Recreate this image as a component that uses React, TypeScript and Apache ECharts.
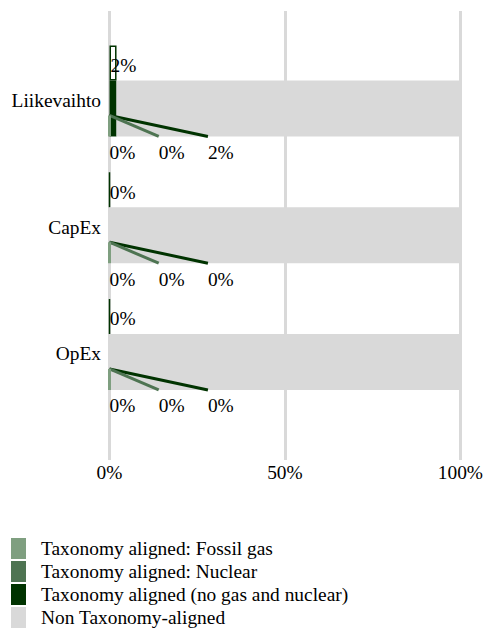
import React, { useEffect, useRef } from 'react';
import * as echarts from 'echarts';

const categories = ['Liikevaihto', 'CapEx', 'OpEx'];
const fossilGas = [0, 0, 0];
const nuclear = [0, 0, 0];
const alignedNoGasNuclear = [2, 0, 0];
const nonAligned = [98, 100, 100];
const totalAligned = [2, 0, 0];

const seriesNames = [
  'Taxonomy aligned: Fossil gas',
  'Taxonomy aligned: Nuclear',
  'Taxonomy aligned (no gas and nuclear)',
  'Non Taxonomy-aligned',
];
const seriesColors = ['#7f9f80', '#4e7452', '#003300', '#d9d9d9'];

const FONT = 'Times New Roman, Liberation Serif, serif';
const FS = 19.4;

export default function App() {
  const ref = useRef<HTMLDivElement>(null);

  useEffect(() => {
    if (!ref.current) return;
    const chart = echarts.init(ref.current, null, { renderer: 'svg' });
    const stackValues = [fossilGas, nuclear, alignedNoGasNuclear, nonAligned];

    const option: any = {
      animation: false,
      textStyle: { fontFamily: FONT },
      grid: [
        { left: 109.5, right: 25, top: 11, bottom: 170 },
        { left: 109.5, right: 25, top: 27.6, height: 380.25 },
      ],
      xAxis: [
        {
          gridIndex: 0,
          type: 'value',
          min: 0,
          max: 100,
          interval: 50,
          axisLine: { show: false },
          axisTick: { show: false },
          splitLine: { show: true, lineStyle: { color: '#d9d9d9', width: 3 } },
          axisLabel: {
            formatter: '{value}%',
            fontSize: FS,
            fontFamily: FONT,
            color: '#000',
            margin: 3,
          },
        },
        { gridIndex: 1, type: 'value', min: 0, max: 100, show: false },
      ],
      yAxis: [
        { gridIndex: 0, type: 'value', min: 0, max: 1, show: false },
        {
          gridIndex: 1,
          type: 'category',
          data: categories,
          inverse: true,
          axisLine: { show: false },
          axisTick: { show: false },
          splitLine: { show: false },
          axisLabel: {
            fontSize: FS,
            fontFamily: FONT,
            color: '#000',
            margin: 8.5,
            verticalAlign: 'top',
          },
        },
      ],
      legend: {
        orient: 'vertical',
        left: 11,
        top: 538,
        height: 120,
        padding: 0,
        itemWidth: 15,
        itemHeight: 21,
        itemGap: 2,
        icon: 'rect',
        data: seriesNames,
        textStyle: {
          fontSize: FS,
          fontFamily: FONT,
          color: '#000',
          lineHeight: 21,
          padding: [0, 0, 0, 10],
        },
      },
      series: [
        {
          name: 'Taxonomy aligned',
          type: 'bar',
          xAxisIndex: 1,
          yAxisIndex: 1,
          stack: 'total',
          barWidth: 35,
          barGap: '0%',
          data: totalAligned,
          itemStyle: { color: '#ffffff', borderColor: '#003300', borderWidth: 1.5 },
          label: {
            show: true,
            position: 'insideLeft',
            distance: 1,
            offset: [0, 2.5],
            formatter: '{c}%',
            fontSize: FS,
            fontFamily: FONT,
            color: '#000',
          },
        },
        ...seriesNames.map((name, k) => ({
          name,
          type: 'bar',
          xAxisIndex: 1,
          yAxisIndex: 1,
          stack: 'main',
          barWidth: 56,
          barGap: '0%',
          data: stackValues[k],
          itemStyle: { color: seriesColors[k] },
        })),
        {
          type: 'custom',
          xAxisIndex: 1,
          yAxisIndex: 1,
          silent: true,
          z: 5,
          encode: { x: 0, y: 3 },
          data: categories.map((c, i) => [
            fossilGas[i],
            nuclear[i],
            alignedNoGasNuclear[i],
            i,
          ]),
          renderItem: (params: any, api: any) => {
            const idx = api.value(3);
            const base = api.coord([0, idx]);
            const unit = api.size([1, 0])[0];
            const cy = base[1];
            const startY = cy + 24.5;
            const bottomY = cy + 45.5;
            const labelY = cy + 61.5;
            const spacing = 14 * unit;
            const vals = [api.value(0), api.value(1), api.value(2)];
            const starts: number[] = [];
            let cum = 0;
            vals.forEach((v) => {
              starts.push(base[0] + cum * unit);
              cum += v;
            });
            const order = [2, 1, 0];
            const children: any[] = [];
            order.forEach((k) => {
              children.push({
                type: 'line',
                shape: {
                  x1: starts[k],
                  y1: startY,
                  x2: base[0] + k * spacing,
                  y2: bottomY,
                },
                style: { stroke: seriesColors[k], lineWidth: 3 },
              });
            });
            vals.forEach((v, k) => {
              children.push({
                type: 'text',
                x: base[0] + k * spacing,
                y: labelY,
                style: {
                  text: v + '%',
                  fontSize: FS,
                  fontFamily: FONT,
                  fill: '#000',
                  align: 'left',
                  verticalAlign: 'middle',
                },
              });
            });
            return { type: 'group', children };
          },
        },
      ],
    };
    chart.setOption(option);
    return () => chart.dispose();
  }, []);

  return <div ref={ref} style={{ width: 486, height: 630, position: 'absolute', left: 0, top: 0 }} />;
}
